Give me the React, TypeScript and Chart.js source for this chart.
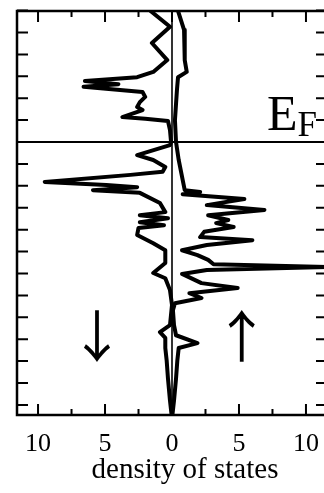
import React, { useEffect, useRef } from 'react';
import { Chart, registerables } from 'chart.js';

Chart.register(...registerables);

// Energy (eV, relative to E_F) and density of states
const downEnergy = [2.99, 2.63, 2.26, 1.87, 1.6, 1.48, 1.39, 1.32, 1.26, 1.14, 1.03, 0.91, 0.8, 0.73, 0.57, 0.53, 0.48, 0.27, 0.0, -0.07, -0.3, -0.41, -0.57, -0.68, -0.75, -0.91, -0.98, -1.03, -1.1, -1.16, -1.39, -1.6, -1.67, -1.74, -1.83, -1.9, -1.96, -2.12, -2.31, -2.47, -2.76, -2.99, -3.11, -3.38, -3.72, -4.18, -4.34, -4.47, -4.7, -4.98, -5.4, -5.9, -6.23];
const downDos = [1.6, 0.15, 1.5, 0.35, 1.4, 2.6, 6.5, 4.0, 6.6, 2.2, 2.0, 2.4, 2.6, 2.2, 3.7, 2.0, 0.3, 0.15, 0.07, 0.15, 2.6, 1.4, 0.5, 0.7, 3.1, 9.5, 4.9, 2.6, 5.9, 2.4, 0.9, 0.5, 2.4, 0.3, 2.4, 0.6, 2.5, 2.6, 1.4, 0.5, 0.5, 1.4, 0.5, 0.15, 0.0, 0.15, 0.9, 0.5, 0.5, 0.4, 0.3, 0.15, 0.03];

const upEnergy = [2.99, 2.56, 1.87, 1.6, 1.48, 1.19, 0.5, 0.0, -0.41, -0.87, -1.1, -1.14, -1.19, -1.3, -1.44, -1.55, -1.67, -1.78, -1.85, -1.94, -2.05, -2.17, -2.24, -2.35, -2.47, -2.58, -2.69, -2.79, -2.85, -2.92, -3.01, -3.22, -3.33, -3.45, -3.56, -3.68, -3.84, -4.18, -4.41, -4.59, -4.7, -4.98, -5.4, -5.9, -6.23];
const upDos = [0.45, 0.9, 0.95, 1.1, 0.45, 0.37, 0.22, 0.3, 0.5, 0.8, 0.95, 2.1, 0.8, 5.4, 2.6, 6.9, 2.7, 4.2, 3.3, 4.6, 2.4, 2.1, 6.0, 2.6, 0.75, 1.9, 2.7, 3.1, 11.6, 2.6, 0.75, 2.2, 4.9, 1.3, 2.2, 0.22, 0.07, 0.15, 0.3, 1.9, 0.5, 0.4, 0.3, 0.15, 0.03];

const xLabelTicks = [-10, -5, 0, 5, 10];
const xAllTicks = [-10, -7.5, -5, -2.5, 0, 2.5, 5, 7.5, 10];
const energyTicks = [-6, -5.5, -5, -4.5, -4, -3.5, -3, -2.5, -2, -1.5, -1, -0.5, 0, 0.5, 1, 1.5, 2, 2.5, 3];
const xTitle = 'density of states';
const fermiMain = 'E';
const fermiSub = 'F';
const downArrow = '\u2193';
const upArrow = '\u2191';

const SERIF = '"Liberation Serif", "Times New Roman", serif';
const ARROWFONT = '"Noto Sans CJK JP", "Liberation Serif", serif';

const decorPlugin = {
  id: 'decor',
  beforeDatasetsDraw(chart: any) {
    const { ctx, chartArea: a, scales } = chart;
    const x = scales.x;
    const y = scales.y;
    ctx.save();
    ctx.strokeStyle = '#000';
    ctx.lineWidth = 1.6;
    const x0 = x.getPixelForValue(0);
    ctx.beginPath();
    ctx.moveTo(x0, a.top);
    ctx.lineTo(x0, a.bottom);
    ctx.stroke();
    ctx.lineWidth = 2;
    const yF = y.getPixelForValue(0);
    ctx.beginPath();
    ctx.moveTo(a.left, yF);
    ctx.lineTo(a.right, yF);
    ctx.stroke();
    ctx.restore();
  },
  afterDraw(chart: any) {
    const { ctx, chartArea: a, scales } = chart;
    const x = scales.x;
    const y = scales.y;
    ctx.save();
    ctx.strokeStyle = '#000';
    ctx.fillStyle = '#000';
    ctx.lineWidth = 2.5;
    ctx.strokeRect(a.left, a.top, a.right - a.left, a.bottom - a.top);
    ctx.lineWidth = 2;
    ctx.beginPath();
    xAllTicks.forEach((v) => {
      const px = x.getPixelForValue(v);
      const len = v % 5 === 0 ? 11 : 6;
      ctx.moveTo(px, a.bottom);
      ctx.lineTo(px, a.bottom - len);
      ctx.moveTo(px, a.top);
      ctx.lineTo(px, a.top + len);
    });
    energyTicks.forEach((v) => {
      const py = y.getPixelForValue(v);
      ctx.moveTo(a.left, py);
      ctx.lineTo(a.left + 11, py);
      ctx.moveTo(a.right, py);
      ctx.lineTo(a.right - 11, py);
    });
    ctx.stroke();

    // E_F label
    ctx.textBaseline = 'alphabetic';
    ctx.textAlign = 'left';
    ctx.font = `50px ${SERIF}`;
    ctx.fillText(fermiMain, 267, 130);
    const w = ctx.measureText(fermiMain).width;
    ctx.font = `35px ${SERIF}`;
    ctx.fillText(fermiSub, 267 + w, 136);

    // spin arrows
    ctx.textAlign = 'center';
    ctx.textBaseline = 'middle';
    ctx.font = `56px ${ARROWFONT}`;
    const ay = y.getPixelForValue(-4.43);
    ctx.fillText(downArrow, x.getPixelForValue(-5.6), ay);
    ctx.fillText(upArrow, x.getPixelForValue(5.2), ay);

    // axis title
    ctx.textBaseline = 'alphabetic';
    ctx.font = `29px ${SERIF}`;
    ctx.fillText(xTitle, 185, 478);
    ctx.restore();
  },
};

export default function App() {
  const ref = useRef<HTMLCanvasElement>(null);
  useEffect(() => {
    if (!ref.current) return;
    const chart = new Chart(ref.current, {
      type: 'scatter',
      data: {
        datasets: [
          {
            label: 'spin down',
            data: downEnergy.map((e, i) => ({ x: -downDos[i], y: e })),
            showLine: true,
            borderColor: '#000',
            borderWidth: 4,
            pointRadius: 0,
            borderJoinStyle: 'round',
            borderCapStyle: 'round',
          },
          {
            label: 'spin up',
            data: upEnergy.map((e, i) => ({ x: upDos[i], y: e })),
            showLine: true,
            borderColor: '#000',
            borderWidth: 4,
            pointRadius: 0,
            borderJoinStyle: 'round',
            borderCapStyle: 'round',
          },
        ],
      },
      options: {
        animation: false,
        responsive: false,
        devicePixelRatio: 1,
        layout: { padding: { left: 17, top: 11, right: 13, bottom: 20 } },
        plugins: { legend: { display: false }, tooltip: { enabled: false } },
        scales: {
          x: {
            type: 'linear',
            min: -11.57,
            max: 11.57,
            grid: { display: false, drawTicks: false },
            border: { display: false },
            afterBuildTicks: (s: any) => {
              s.ticks = xLabelTicks.map((v) => ({ value: v }));
            },
            ticks: {
              padding: 16,
              color: '#000',
              font: { family: SERIF, size: 26, lineHeight: 1 },
              callback: (v: any) => String(Math.abs(Number(v))),
            },
          },
          y: {
            type: 'linear',
            display: false,
            min: -6.23,
            max: 2.99,
          },
        },
      },
      plugins: [decorPlugin],
    });
    return () => chart.destroy();
  }, []);
  return (
    <div style={{ position: 'fixed', left: 0, top: 0, width: 324, height: 493, overflow: 'hidden', background: '#fff' }}>
      <canvas ref={ref} width={340} height={493} style={{ width: 340, height: 493, display: 'block' }} />
    </div>
  );
}
